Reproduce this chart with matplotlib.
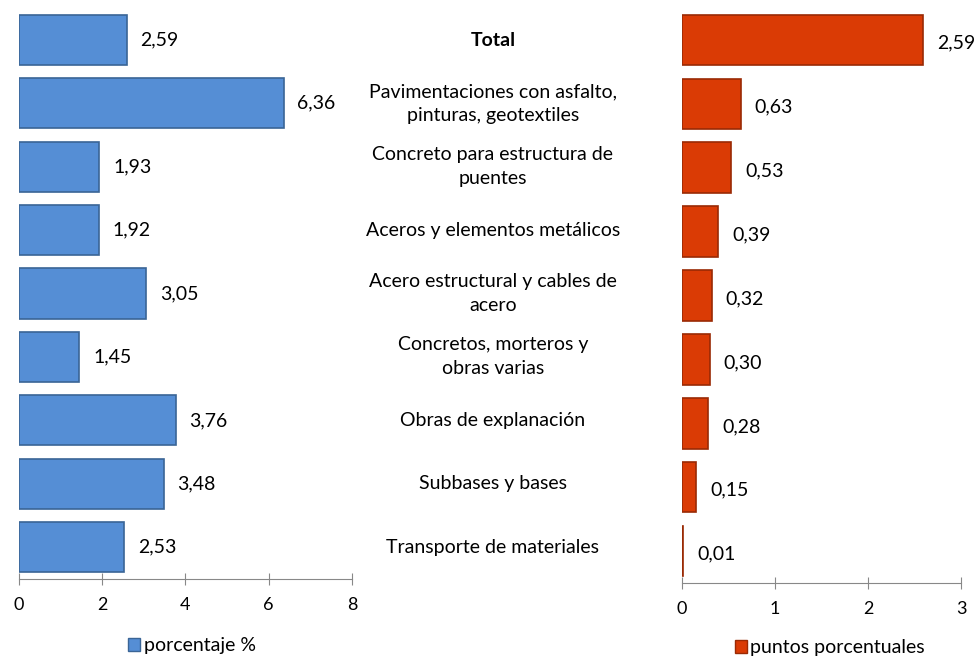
import matplotlib
matplotlib.use("Agg")
import matplotlib.pyplot as plt
from matplotlib.patches import Patch

categories = ["Total",
              "Pavimentaciones con asfalto,\npinturas, geotextiles",
              "Concreto para estructura de\npuentes",
              "Aceros y elementos metálicos",
              "Acero estructural y cables de\nacero",
              "Concretos, morteros y\nobras varias",
              "Obras de explanación",
              "Subbases y bases",
              "Transporte de materiales"]
porcentaje = [2.59, 6.36, 1.93, 1.92, 3.05, 1.45, 3.76, 3.48, 2.53]
puntos = [2.59, 0.63, 0.53, 0.39, 0.32, 0.30, 0.28, 0.15, 0.01]
left_ticks = [0, 2, 4, 6, 8]
right_ticks = [0, 1, 2, 3]

plt.rcParams['font.family'] = ['Lato', 'DejaVu Sans']
W, H = 979, 658
fig = plt.figure(figsize=(W/100, H/100), dpi=100)

def fmt(v):
    return f"{v:.2f}".replace(".", ",")

def setup(ax, ticks):
    for s in ["left", "right", "top"]:
        ax.spines[s].set_visible(False)
    ax.spines["bottom"].set_color("#888888")
    ax.set_xticks(ticks)
    ax.set_xticklabels([str(t) for t in ticks], fontsize=13)
    ax.tick_params(axis="x", direction="inout", length=8, color="#888888", pad=9)
    ax.set_yticks([])
    ax.set_xlim(ticks[0], ticks[-1])
    ax.set_ylim(len(categories) - 0.5, -0.5)

n = len(categories)
ypos = list(range(n))

ax1 = fig.add_axes([19/W, 1-579/H, 333/W, 571/H])
ax1.barh(ypos, porcentaje, height=0.79, color="#558ED5", edgecolor="#3A6596", linewidth=1.2)
for y, v in zip(ypos, porcentaje):
    ax1.text(v + 0.33, y, fmt(v), va="center", ha="left", fontsize=14)
setup(ax1, left_ticks)

ax2 = fig.add_axes([682/W, 1-583/H, 279/W, 575/H])
ax2.barh(ypos, puntos, height=0.79, color="#DA3B05", edgecolor="#9A2A04", linewidth=1.2)
for y, v in zip(ypos, puntos):
    ax2.text(v + 0.15, y + 0.05, fmt(v), va="center", ha="left", fontsize=14)
setup(ax2, right_ticks)

for y, c in zip(ypos, categories):
    yf = 1 - (40 + y * 63.4) / H
    fig.text(493/W, yf, c, ha="center", va="center", fontsize=14,
             fontweight="bold" if c == "Total" else "normal", linespacing=1.5)

fig.legend(handles=[Patch(facecolor="#558ED5", edgecolor="#3A6596")], labels=["porcentaje %"],
           loc="center", bbox_to_anchor=(192/W, 1-646/H), frameon=False, fontsize=14,
           handlelength=0.6, handleheight=0.6, handletextpad=0.2)
fig.legend(handles=[Patch(facecolor="#DA3B05", edgecolor="#9A2A04")], labels=["puntos porcentuales"],
           loc="center", bbox_to_anchor=(830/W, 1-648/H), frameon=False, fontsize=14,
           handlelength=0.6, handleheight=0.6, handletextpad=0.2)

fig.savefig("out.png", dpi=100)
